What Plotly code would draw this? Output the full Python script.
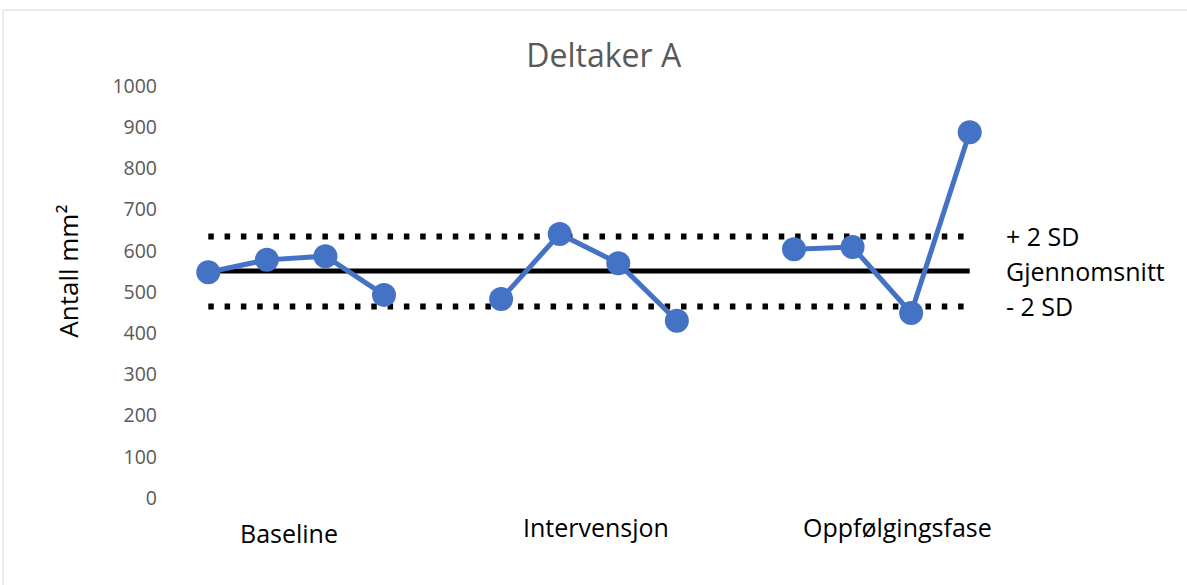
import plotly.graph_objects as go

# Session index on the category axis (gaps separate the three phases)
sessions = list(range(14))
areal = [548, 578, 587, 493, None, 483, 641, 570, 430, None, 604, 609, 449, 888]

mean_value = 551
upper_2sd = 635
lower_2sd = 465

phase_labels = ["Baseline", "Intervensjon", "Oppfølgingsfase"]
phase_pos = [1.37, 6.62, 11.76]
phase_y = [-0.085, -0.07, -0.07]

ref_labels = ["+ 2 SD", "Gjennomsnitt", "- 2 SD"]
ref_values = [upper_2sd, mean_value, lower_2sd]

y_ticks = list(range(0, 1001, 100))

FONT = "Open Sans"
BLUE = "#4472C4"
GRAY = "#595959"

fig = go.Figure()

# Reference lines: ±2 SD (dotted) and mean (solid)
for val in (upper_2sd, lower_2sd):
    fig.add_trace(go.Scatter(
        x=[sessions[0], sessions[-1]], y=[val, val], mode="lines",
        line=dict(color="black", width=6, dash="5.5px,10.8px"),
        hoverinfo="skip", showlegend=False))

fig.add_trace(go.Scatter(
    x=[sessions[0], sessions[-1]], y=[mean_value, mean_value], mode="lines",
    line=dict(color="black", width=5), hoverinfo="skip", showlegend=False))

# Measurements
fig.add_trace(go.Scatter(
    x=sessions, y=areal, mode="lines+markers",
    line=dict(color=BLUE, width=5),
    marker=dict(color=BLUE, size=24),
    connectgaps=False, showlegend=False))

annotations = []
for lab, px, py in zip(phase_labels, phase_pos, phase_y):
    annotations.append(dict(
        text=lab, x=px, y=py, xref="x", yref="paper",
        xanchor="center", yanchor="middle", showarrow=False,
        font=dict(family=FONT, size=25, color="black")))

for lab, val in zip(ref_labels, ref_values):
    annotations.append(dict(
        text=lab, x=1.006, y=val, xref="paper", yref="y",
        xanchor="left", yanchor="middle", showarrow=False,
        font=dict(family=FONT, size=25, color="black")))

annotations.append(dict(
    text="Antall mm²", x=-0.135, y=0.55, xref="paper", yref="paper",
    textangle=-90, xanchor="center", yanchor="middle", showarrow=False,
    font=dict(family=FONT, size=26, color="black")))

fig.update_layout(
    width=1187, height=585,
    margin=dict(l=179, r=188, t=86, b=87),
    paper_bgcolor="white", plot_bgcolor="white",
    title=dict(text="Deltaker A", x=0.518, xref="paper", y=0.905, yanchor="middle",
               font=dict(family=FONT, size=32, color=GRAY)),
    xaxis=dict(range=[-0.5, 13.5], showgrid=False, zeroline=False,
               showline=False, showticklabels=False),
    yaxis=dict(range=[0, 1000], tickvals=y_ticks, showgrid=False,
               zeroline=False, showline=False, ticklabelstandoff=21,
               tickfont=dict(family=FONT, size=19.5, color=GRAY)),
    annotations=annotations,
    shapes=[dict(type="rect", xref="paper", yref="paper",
                 x0=-0.2146, x1=1.5, y0=-0.5, y1=1.1845,
                 line=dict(color="#d9d9d9", width=1), fillcolor="rgba(0,0,0,0)",
                 layer="below")],
)

fig.write_html("out.html")
